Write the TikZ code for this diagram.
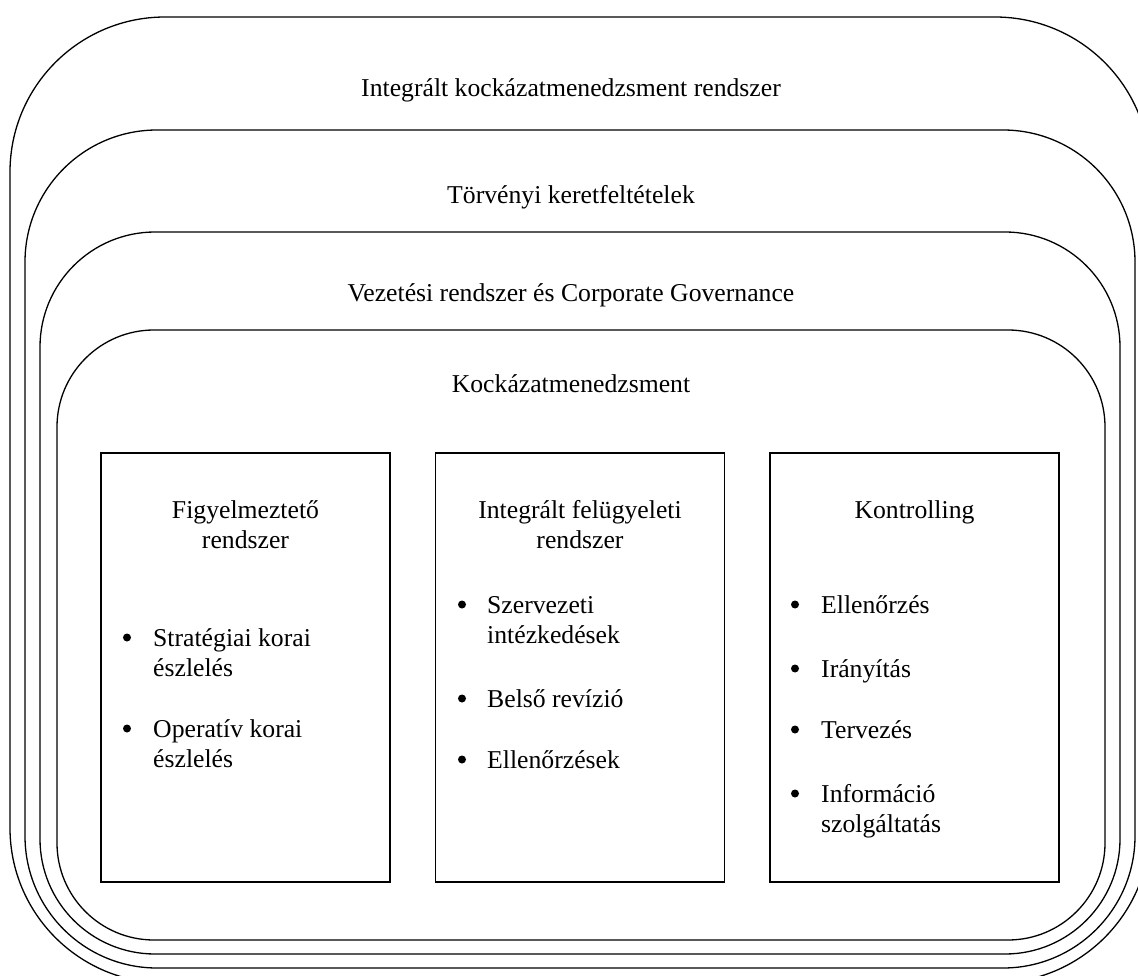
\documentclass[tikz,border=0pt]{standalone}
\usepackage{fontspec}
\setmainfont{Liberation Serif}
\begin{document}
\begin{tikzpicture}[x=1pt,y=-1pt,
  font=\fontsize{25.7}{30.5}\selectfont,
  layer/.style={draw=black, line width=1.3pt, inner sep=0pt, rectangle},
  panel/.style={draw=black, line width=1.6pt, inner sep=0pt,
                minimum width=289pt, minimum height=429pt},
  headtxt/.style={anchor=base, inner sep=0pt},
  bul/.style={circle, fill=black, inner sep=0pt, minimum size=8pt, yshift=8.5pt},
  itemtext/.style={anchor=base west, inner sep=0pt}]

\useasboundingbox (0,0) rectangle (1138,976);
\clip (0,0) rectangle (1138,976);

% nested rounded frames, outermost first
\node[layer, rounded corners=155pt, minimum width=1140pt, minimum height=966pt] (frameA) at (580,500) {};
\node[layer, rounded corners=132pt, minimum width=1110pt, minimum height=838pt] (frameB) at (580,549) {};
\node[layer, rounded corners=115pt, minimum width=1080pt, minimum height=722pt] (frameC) at (580,593) {};
\node[layer, rounded corners=97pt,  minimum width=1048pt, minimum height=610pt] (frameD) at (581,635) {};

% frame captions
\node[headtxt] (capA) at (571,97)  {Integrált kockázatmenedzsment rendszer};
\node[headtxt] (capB) at (571,204) {Törvényi keretfeltételek};
\node[headtxt] (capC) at (571,302) {Vezetési rendszer és Corporate Governance};
\node[headtxt] (capD) at (571,392) {Kockázatmenedzsment};

% three panels
\node[panel] (p1) at (245.5,667.5) {};
\node[panel] (p2) at (580,667.5) {};
\node[panel] (p3) at (914.5,667.5) {};

% panel 1
\node[headtxt] (t1) at (245.5,518) {\parbox[t]{280pt}{\centering Figyelmeztető\\rendszer}};
\node[bul] (b1a) at (127,646) {};
\node[itemtext] (i1a) at (153,646) {\parbox[t]{230pt}{\raggedright Stratégiai korai\\észlelés}};
\node[bul] (b1b) at (127,737) {};
\node[itemtext] (i1b) at (153,737) {\parbox[t]{230pt}{\raggedright Operatív korai\\észlelés}};

% panel 2
\node[headtxt] (t2) at (580,518) {\parbox[t]{280pt}{\centering Integrált felügyeleti\\rendszer}};
\node[bul] (b2a) at (462,613) {};
\node[itemtext] (i2a) at (487,613) {\parbox[t]{230pt}{\raggedright Szervezeti\\intézkedések}};
\node[bul] (b2b) at (462,707) {};
\node[itemtext] (i2b) at (487,707) {Belső revízió};
\node[bul] (b2c) at (462,768) {};
\node[itemtext] (i2c) at (487,768) {Ellenőrzések};

% panel 3
\node[headtxt] (t3) at (914.5,518) {Kontrolling};
\node[bul] (b3a) at (795,613) {};
\node[itemtext] (i3a) at (821,613) {Ellenőrzés};
\node[bul] (b3b) at (795,677) {};
\node[itemtext] (i3b) at (821,677) {Irányítás};
\node[bul] (b3c) at (795,738) {};
\node[itemtext] (i3c) at (821,738) {Tervezés};
\node[bul] (b3d) at (795,802) {};
\node[itemtext] (i3d) at (821,802) {\parbox[t]{230pt}{\raggedright Információ\\szolgáltatás}};
\end{tikzpicture}
\end{document}
